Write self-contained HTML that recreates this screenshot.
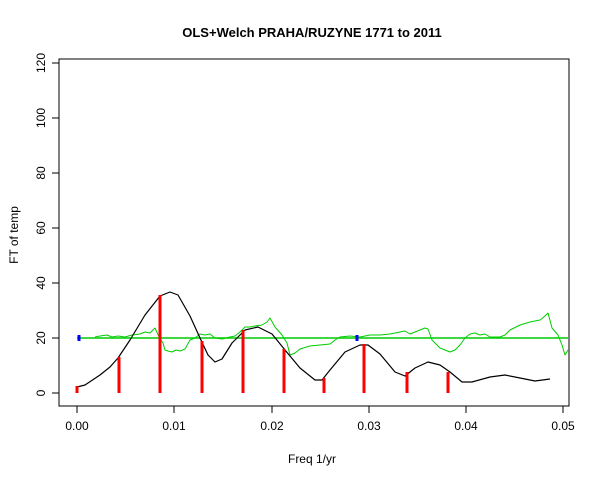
<!DOCTYPE html><html><head><style>body{margin:0;background:#fff}svg text{font-family:"Liberation Sans",Arial,sans-serif}</style></head><body>
<svg width="600" height="480" xmlns="http://www.w3.org/2000/svg">
<rect width="600" height="480" fill="#fff"/>
<text x="312" y="37" font-size="13" font-weight="bold" text-anchor="middle">OLS+Welch PRAHA/RUZYNE 1771 to 2011</text>
<rect x="59" y="59" width="510" height="347" fill="none" stroke="#000" stroke-width="1"/>
<g stroke="#000" fill="none">
<path d="M77 406V413M174 406V413M272 406V413M369 406V413M466 406V413M563 406V413"/>
<path d="M59 393H52M59 338H52M59 283H52M59 228H52M59 173H52M59 118H52M59 63H52"/>
</g>
<g font-size="12" text-anchor="middle">
<text x="77" y="430">0.00</text><text x="174" y="430">0.01</text><text x="272" y="430">0.02</text><text x="369" y="430">0.03</text><text x="466" y="430">0.04</text><text x="563" y="430">0.05</text>
<text transform="translate(45 393) rotate(-90)">0</text>
<text transform="translate(45 338) rotate(-90)">20</text>
<text transform="translate(45 283) rotate(-90)">40</text>
<text transform="translate(45 228) rotate(-90)">60</text>
<text transform="translate(45 173) rotate(-90)">80</text>
<text transform="translate(45 118) rotate(-90)">100</text>
<text transform="translate(45 63) rotate(-90)">120</text>
<text x="312" y="463">Freq 1/yr</text>
<text transform="translate(18 235) rotate(-90)">FT of temp</text>
</g>
<line x1="77" y1="338" x2="568" y2="338" stroke="#00cc00" stroke-width="1.5"/>
<polyline fill="none" stroke="#00cc00" stroke-width="1" stroke-linejoin="round" points="95,337 100,336 107,335 112,337 118,336 125,337 132,335 140,334 145,332 150,333 155,328 160,339 163,343 165,350 168,351 172,352 176,350 180,351 185,349 190,340 195,338 200,334 205,335 210,334 215,338 222,339 230,337 235,336 240,332 245,327 250,327 255,326 262,325 267,322 270,318 275,327 282,335 287,343 290,355 295,353 300,349 310,346 320,345 330,344 335,340 340,337 350,336 360,337 370,335 380,335 390,334 400,332 405,331 410,334 415,332 420,330 425,328 428,329 432,340 440,348 445,350 450,352 455,350 460,345 465,338 470,334 475,333 480,335 485,334 490,337 500,337 505,335 510,330 520,325 530,322 540,320 545,316 548,313 552,328 558,335 562,345 565,355 568,350"/>
<polyline fill="none" stroke="#000" stroke-width="1.2" stroke-linejoin="round" points="77,387 85,385 100,375 110,367 118,358 130,340 145,315 160,296 170,292 178,295 190,316 200,338 208,355 215,362 222,359 232,343 245,330 258,327 272,334 285,350 300,368 315,380 322,380 330,370 345,352 360,345 368,345 380,354 395,372 405,376 415,368 428,362 440,365 450,372 462,382 472,382 490,377 505,375 520,378 535,381 550,379"/>
<g stroke="#ff0000" stroke-width="3">
<path d="M77 393V386M119 393V357M160 393V295M202 393V341M243 393V330M284 393V349M324 393V378M364 393V344M407 393V372M448 393V372"/>
</g>
<g stroke="#0000ff" stroke-width="3"><path d="M79 335V341M357 335V341"/></g>
</svg></body></html>
